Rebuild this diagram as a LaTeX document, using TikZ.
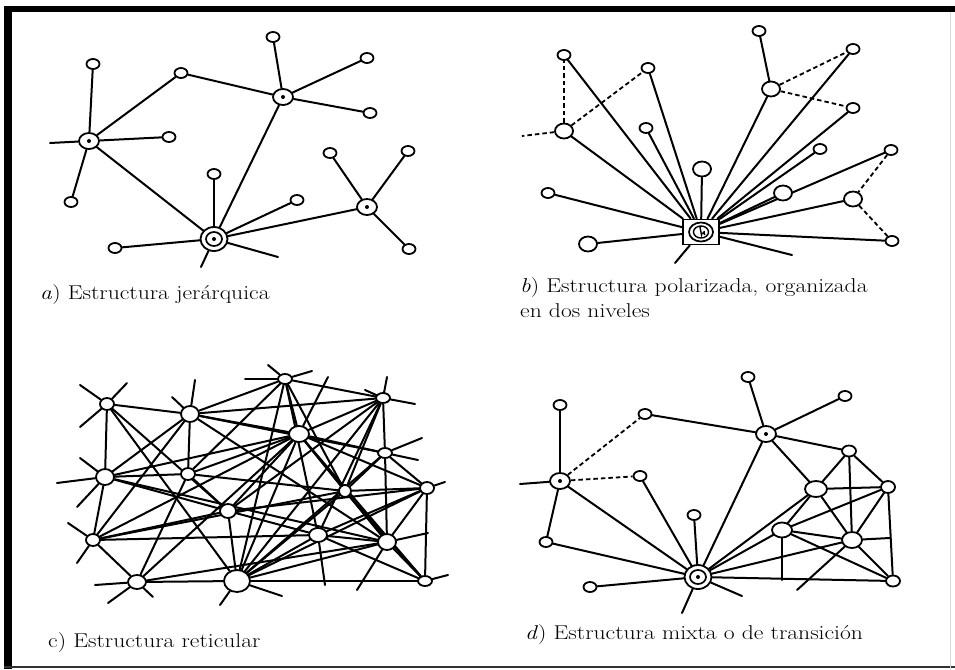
\documentclass[tikz,border=0pt]{standalone}
\usepackage{fontspec}
\usetikzlibrary{shapes.geometric}
\pgfdeclarelayer{bg}
\pgfdeclarelayer{background}
\pgfsetlayers{bg,background,main}
\tikzset{
 ln/.style={line width=2pt, line cap=round},
 dsh/.style={line width=1.8pt, dash pattern=on 4.5pt off 3pt},
 leaf/.style={ellipse, draw, line width=1.8pt, fill=white, inner sep=0pt, minimum width=13pt, minimum height=10pt},
 bigleaf/.style={leaf, minimum width=18pt, minimum height=15pt},
 cn/.style 2 args={leaf, minimum width=#1pt, minimum height=#2pt},
 hub/.style={leaf, minimum width=20pt, minimum height=16pt, path picture={\fill[black] (path picture bounding box.center) circle (2pt);}},
 dhub/.style={leaf, minimum width=27pt, minimum height=24pt, path picture={\draw[black, line width=1.7pt] (path picture bounding box.center) ellipse (8pt and 7pt); \fill[black] (path picture bounding box.center) circle (2pt);}},
 sqhub/.style={rectangle, draw, line width=1.8pt, fill=white, inner sep=0pt, minimum width=36pt, minimum height=25pt},
 captxt/.style={anchor=west, inner sep=0pt, font=\fontsize{20}{24}\selectfont}
}
\newcommand{\capx}[1]{\scalebox{1.18}[1]{#1}}
\begin{document}
\begin{tikzpicture}[x=1pt,y=-1pt]
\begin{pgfonlayer}{bg}
\fill[white] (0,0) rectangle (955,669);
\end{pgfonlayer}
\useasboundingbox (0,0) rectangle (955,669);
% frame
\draw[line width=8pt] (8,6) -- (8,669);
\draw[line width=6pt] (4,9) -- (955,9);
\draw[line width=1.2pt, black!80] (4,667) -- (955,667);
\draw[line width=0.8pt, black!15] (950,12) -- (950,669);

% ================= panel a =================
\node[hub] (A1) at (89,141) {};
\node[hub] (A2) at (283,97) {};
\node[hub] (A3) at (367,207) {};
\node[dhub] (A0) at (214,239) {};
\node[leaf] (a1) at (93,64) {};
\node[leaf] (a2) at (169,137) {};
\node[leaf] (a3) at (71,202) {};
\node[leaf] (a4) at (181,73) {};
\node[leaf] (a5) at (273,37) {};
\node[leaf] (a6) at (367,58) {};
\node[leaf] (a7) at (370,113) {};
\node[leaf] (a8) at (214,174) {};
\node[leaf] (a9) at (115,248) {};
\node[leaf] (a10) at (297,200) {};
\node[leaf] (a11) at (330,153) {};
\node[leaf] (a12) at (408,151) {};
\node[leaf] (a13) at (409,249) {};
\coordinate (af1) at (50,143);
\coordinate (af2) at (278,257);
\coordinate (af3) at (201,267);
\begin{pgfonlayer}{background}
\foreach \u/\v in {A1/a1,A1/af1,A1/a2,A1/a3,A1/a4,a4/A2,A2/a5,A2/a6,A2/a7,A2/A0,A1/A0,A0/a8,A0/a9,A0/a10,A0/af2,A0/af3,A0/A3,A3/a11,A3/a12,A3/a13}
  \draw[ln] (\u) -- (\v);
\end{pgfonlayer}
\node[captxt] (capa) at (40,295) {\capx{\textit{a}) Estructura jerárquica}};

% ================= panel b =================
\node[sqhub] (B0) at (701,232) {};
\draw[line width=1.7pt] (B0.center) ellipse (12pt and 9.5pt);
\draw[line width=1.4pt] (B0.center) ellipse (7.5pt and 6pt);
\draw[line width=1.4pt] ([xshift=-1pt,yshift=5pt]B0.center) -- ([xshift=0.5pt,yshift=-3pt]B0.center) arc (180:0:1.6pt and 2pt) -- ([xshift=3pt,yshift=1pt]B0.center);
\node[leaf] (b1) at (564,55) {};
\node[leaf] (b2) at (648,68) {};
\node[bigleaf] (b3) at (564,131) {};
\node[leaf] (b4) at (646,128) {};
\node[bigleaf] (b5) at (702,169) {};
\node[leaf] (b6) at (548,193) {};
\node[bigleaf] (b7) at (588,244) {};
\node[leaf] (b8) at (759,31) {};
\node[bigleaf] (b9) at (771,89) {};
\node[leaf] (b10) at (853,49) {};
\node[leaf] (b11) at (853,108) {};
\node[leaf] (b12) at (820,149) {};
\node[bigleaf] (b13) at (783,193) {};
\node[leaf] (b14) at (891,150) {};
\node[bigleaf] (b15) at (853,199) {};
\node[leaf] (b16) at (892,241) {};
\coordinate (bf0) at (522,136);
\coordinate (bf1) at (675,263);
\coordinate (bf2) at (792,255);
\begin{pgfonlayer}{background}
\foreach \v in {b1,b2,b3,b4,b5,b6,b7,b9,b10,b11,b12,b13,b14,b15,b16,bf1,bf2}
  \draw[ln] (B0) -- (\v);
\draw[ln] (b8) -- (b9);
\foreach \u/\v in {b3/b1,b3/b2,b3/bf0,b9/b10,b9/b11,b14/b15,b15/b16}
  \draw[dsh] (\u) -- (\v);
\end{pgfonlayer}
\node[captxt] (capb1) at (520,288) {\capx{\textit{b}) Estructura polarizada, organizada}};
\node[captxt] (capb2) at (520,311) {\capx{en dos niveles}};

% ================= panel c =================
\node[cn={14}{12}] (c1) at (107,404) {};
\node[cn={18}{16}] (c2) at (190,414) {};
\node[cn={18}{16}] (c3) at (105,477) {};
\node[cn={14}{12}] (c4) at (188,474) {};
\node[cn={16}{14}] (c5) at (228,511) {};
\node[cn={14}{12}] (c6) at (93,540) {};
\node[cn={18}{14}] (c7) at (137,582) {};
\node[cn={26}{22}] (c8) at (237,581) {};
\node[cn={14}{10}] (c9) at (285,379) {};
\node[cn={20}{16}] (c10) at (299,434) {};
\node[cn={14}{10}] (c11) at (383,398) {};
\node[cn={14}{10}] (c12) at (385,453) {};
\node[cn={12}{12}] (c13) at (345,491) {};
\node[cn={14}{12}] (c14) at (427,488) {};
\node[cn={18}{14}] (c15) at (318,535) {};
\node[cn={18}{16}] (c16) at (387,542) {};
\node[cn={14}{10}] (c17) at (425,581) {};
\coordinate (s1) at (80,385); \coordinate (s2) at (127,383); \coordinate (s3) at (80,427);
\coordinate (s4) at (195,380); \coordinate (s5) at (172,397);
\coordinate (s6) at (57,483); \coordinate (s7) at (80,458); \coordinate (s8) at (77,507);
\coordinate (s9) at (68,523); \coordinate (s10) at (77,563);
\coordinate (s11) at (95,585); \coordinate (s12) at (108,603); \coordinate (s13) at (153,597);
\coordinate (s14) at (282,596); \coordinate (s15) at (220,605);
\coordinate (s16) at (268,365); \coordinate (s17) at (245,379); \coordinate (s18) at (312,371);
\coordinate (s19) at (328,377);
\coordinate (s20) at (387,377); \coordinate (s21) at (365,390); \coordinate (s22) at (415,404);
\coordinate (s23) at (422,438); \coordinate (s24) at (418,460);
\coordinate (s25) at (445,482);
\coordinate (s26) at (428,533); \coordinate (s27) at (357,590);
\coordinate (s28) at (448,575);
\coordinate (s29) at (325,585);
\begin{pgfonlayer}{background}
\foreach \u/\v in {c1/c2,c1/c3,c1/c5,c1/c8,
 c2/c9,c2/c11,c2/c10,c2/c4,c2/c3,c2/c6,c2/c16,c2/c12,
 c3/c4,c3/c10,c3/c5,c3/c6,c3/c16,
 c4/c9,c4/c5,c4/c7,c4/c10,c4/c13,
 c5/c6,c5/c8,c5/c10,c5/c14,c5/c15,c5/c11,
 c6/c7,c6/c10,c6/c15,c6/c13,
 c7/c8,c7/c10,c7/c16,
 c8/c9,c8/c10,c8/c11,c8/c12,c8/c13,c8/c14,c8/c15,c8/c16,c8/c17,
 c9/c10,c9/c11,c9/c15,c9/c13,
 c10/c11,c10/c12,c10/c13,c10/c16,c10/c17,c10/c14,
 c11/c12,c11/c13,c11/c15,
 c12/c14,c12/c16,c12/c13,
 c13/c14,c13/c16,c13/c17,
 c14/c16,c14/c17,c14/c15,
 c15/c16,c15/c17,c16/c17,
 c1/s1,c1/s2,c1/s3,c2/s4,c2/s5,c3/s6,c3/s7,c3/s8,c6/s9,c6/s10,
 c7/s11,c7/s12,c7/s13,c8/s14,c8/s15,c9/s16,c9/s17,c9/s18,c10/s19,
 c11/s20,c11/s21,c11/s22,c12/s23,c12/s24,c14/s25,c16/s26,c16/s27,c17/s28,c15/s29}
  \draw[ln] (\u) -- (\v);
\end{pgfonlayer}
\node[captxt] (capc) at (48,643) {\capx{c) Estructura reticular}};

% ================= panel d =================
\node[hub] (D1) at (560,481) {};
\node[hub] (D2) at (766,434) {};
\node[dhub] (D0) at (698,577) {};
\node[leaf] (d1) at (560,405) {};
\node[leaf] (d2) at (546,542) {};
\node[leaf] (d3) at (645,414) {};
\node[leaf] (d4) at (640,476) {};
\node[leaf] (d5) at (748,377) {};
\node[leaf] (d6) at (845,396) {};
\node[leaf] (d7) at (694,515) {};
\node[leaf] (d8) at (590,587) {};
\node[cn={14}{11}] (n1) at (849,451) {};
\node[cn={22}{16}] (n2) at (816,489) {};
\node[cn={14}{12}] (n3) at (888,487) {};
\node[cn={20}{15}] (n4) at (782,530) {};
\node[cn={20}{16}] (n5) at (852,540) {};
\node[cn={14}{11}] (n6) at (893,581) {};
\coordinate (df1) at (520,484);
\coordinate (df2) at (742,596);
\coordinate (df3) at (682,613);
\coordinate (df4) at (797,590);
\coordinate (df5) at (782,580);
\coordinate (df6) at (890,538);
\begin{pgfonlayer}{background}
\foreach \u/\v in {D1/d1,D1/df1,D1/d2,d2/D0,D1/D0,d3/D2,d4/D0,D2/d5,D2/d6,D2/D0,D2/n1,D2/n2,
 D0/d7,D0/d8,D0/df2,D0/df3,D0/n2,D0/n4,D0/n5,D0/n6,
 n1/n2,n1/n3,n1/n5,n2/n3,n2/n5,n2/n4,n3/n4,n3/n5,n3/n6,n4/n5,n4/n6,n5/n6,n5/df4,n4/df5,n5/df6}
  \draw[ln] (\u) -- (\v);
\draw[dsh] (D1) -- (d3);
\draw[dsh] (D1) -- (d4);
\end{pgfonlayer}
\node[captxt] (capd) at (525,635) {\capx{\textit{d}) Estructura mixta o de transición}};
\end{tikzpicture}
\end{document}
